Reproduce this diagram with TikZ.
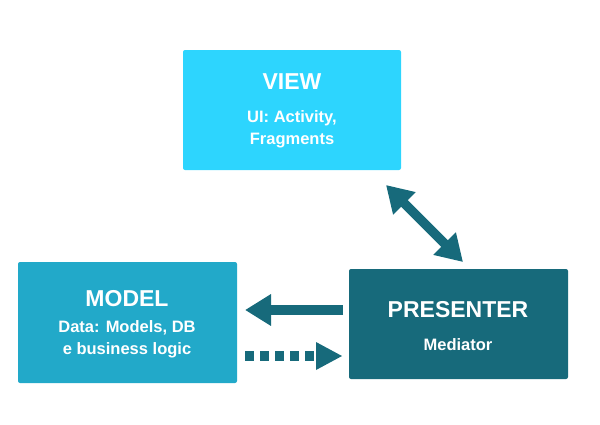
\documentclass[tikz,border=0pt]{standalone}
\usepackage{fontspec}
\setmainfont{Liberation Sans}
\usetikzlibrary{arrows.meta}
\definecolor{viewc}{HTML}{2DD5FE}
\definecolor{modelc}{HTML}{22A9C9}
\definecolor{presc}{HTML}{176A7B}
\begin{document}
\begin{tikzpicture}[x=1pt,y=-1pt,
  box/.style={draw=none,rounded corners=2pt,inner sep=0pt},
  ttl/.style={text=white,font=\bfseries\fontsize{23}{26}\selectfont,inner sep=0pt},
  sub/.style={text=white,font=\bfseries\fontsize{16.5}{22}\selectfont,align=center,inner sep=0pt},
  bigarrow/.style={draw=presc,line width=9.5pt,-{Triangle[length=26pt,width=30pt]}},
  dblarrow/.style={draw=presc,line width=9.5pt,{Triangle[length=26pt,width=30pt]}-{Triangle[length=26pt,width=30pt]}}]
\useasboundingbox (0,0) rectangle (600,424);
\fill[viewc,rounded corners=2pt] (183,50) rectangle (401,170);
\fill[modelc,rounded corners=2pt] (18,262) rectangle (237,383);
\fill[presc,rounded corners=2pt] (349,269) rectangle (568,379);
\node[ttl] (vt) at (292,82) {VIEW};
\node[sub] (vs) at (292,129) {UI: Activity,\\ Fragments};
\node[ttl] (mt) at (127,299) {MODEL};
\node[sub] (ms) at (127,339) {Data: Models, DB\\e business logic};
\node[ttl] (pt) at (458,310) {PRESENTER};
\node[sub] (ps) at (458,345) {Mediator};
\coordinate (d1) at (386,185);
\coordinate (d2) at (463,262);
\draw[dblarrow] (d1) -- (d2);
\coordinate (l1) at (343,310);
\coordinate (l2) at (245,310);
\draw[bigarrow] (l1) -- (l2);
\coordinate (r1) at (245,356);
\coordinate (r2) at (343,356);
\draw[draw=presc,line width=10pt,dash pattern=on 9pt off 6pt] (r1) -- (317,356);
\fill[presc] (342,356) -- (316,342) -- (316,370) -- cycle;
\end{tikzpicture}
\end{document}
